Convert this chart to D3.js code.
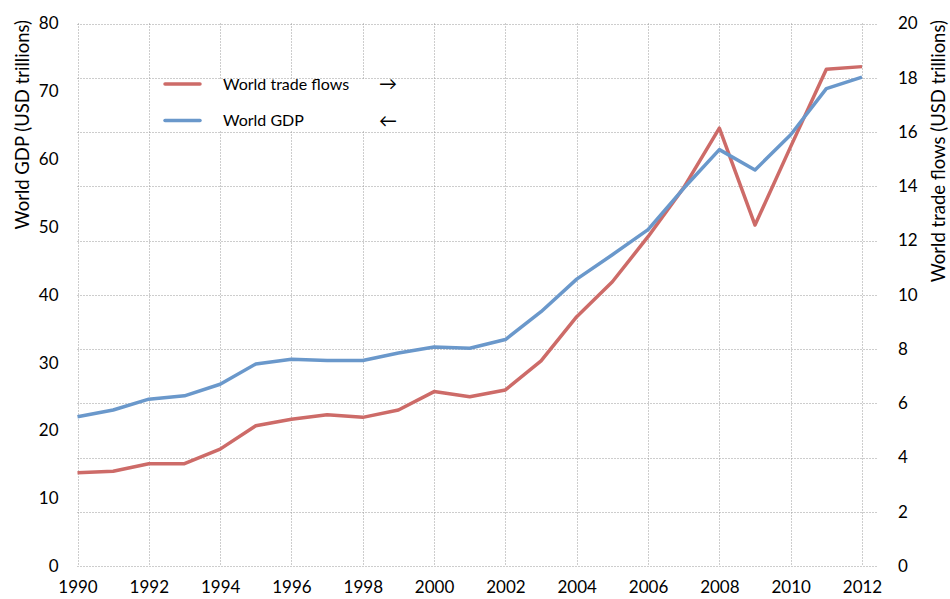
<!DOCTYPE html>
<html>
<head>
<meta charset="utf-8">
<script src="https://cdn.jsdelivr.net/npm/d3@7"></script>
<style>
  body { margin: 0; background: #fff; }
  svg text { font-family: Lato, "Open Sans", sans-serif; fill: #000; }
</style>
</head>
<body>
<svg class="chart"></svg>
<script>
// chart size + plot box
const width = 950
const height = 599
const padding = ({top: 23.5, right: 88, bottom: 33, left: 77.5})

// data
const years = d3.range(1990, 2013)
const gdp = [22.0, 23.0, 24.6, 25.1, 26.8, 29.8, 30.5, 30.3, 30.3, 31.4, 32.3, 32.1,
             33.4, 37.5, 42.3, 45.9, 49.6, 55.7, 61.4, 58.4, 63.6, 70.4, 72.1]
const trade = [3.44, 3.49, 3.77, 3.77, 4.31, 5.17, 5.41, 5.58, 5.48, 5.75, 6.43, 6.24,
               6.49, 7.56, 9.19, 10.48, 12.14, 13.95, 16.14, 12.57, 15.46, 18.31, 18.41]

const xTicks = d3.range(1990, 2013, 2)
const gdpTicks = d3.range(0, 81, 10)
const tradeTicks = d3.range(0, 21, 2)

const seriesNames = ['World trade flows', 'World GDP']
const seriesArrows = ['\u2192', '\u2190']
const colors = ['#cd6b68', '#6a98cb']

const svg = d3.select('svg.chart')
  .attr('width', width)
  .attr('height', height)

// scales
const xScale = d3.scaleLinear()
  .domain([1990, 2012])
  .range([padding.left, width - padding.right])

const yLeft = d3.scaleLinear()
  .domain([0, 80])
  .range([height - padding.bottom, padding.top])

const yRight = d3.scaleLinear()
  .domain([0, 20])
  .range([height - padding.bottom, padding.top])

// gridlines (horizontal ones follow the right axis)
const grid = svg.append('g').attr('class', 'grid')
  .attr('stroke', '#9a9a9a')
  .attr('stroke-width', 1)
  .attr('stroke-dasharray', '1,2')

grid.selectAll('line.h')
  .data(tradeTicks)
  .join('line')
  .attr('class', 'h')
  .attr('x1', padding.left)
  .attr('x2', width - padding.right + 16)
  .attr('y1', d => Math.round(yRight(d)) + 0.5)
  .attr('y2', d => Math.round(yRight(d)) + 0.5)

grid.selectAll('line.v')
  .data(xTicks)
  .join('line')
  .attr('class', 'v')
  .attr('x1', d => Math.round(xScale(d)) + 0.5)
  .attr('x2', d => Math.round(xScale(d)) + 0.5)
  .attr('y1', padding.top)
  .attr('y2', height - padding.bottom)

// axes (labels only, no domain lines)
const leftAxis = d3.axisLeft(yLeft).tickValues(gdpTicks).tickSize(0).tickPadding(19)
const rightAxis = d3.axisRight(yRight).tickValues(tradeTicks).tickSize(0).tickPadding(36)
const bottomAxis = d3.axisBottom(xScale).tickValues(xTicks).tickSize(0).tickFormat(d3.format('d')).tickPadding(15)

const styleAxis = g => {
  g.select('.domain').remove()
  g.selectAll('text').attr('font-size', 17).attr('font-family', 'Lato, sans-serif').attr('fill', '#000')
}

svg.append('g').attr('transform', `translate(${padding.left},0)`).call(leftAxis).call(styleAxis)
svg.append('g').attr('transform', `translate(${width - padding.right},0)`).call(rightAxis).call(styleAxis)
svg.append('g').attr('transform', `translate(0,${height - padding.bottom})`).call(bottomAxis).call(styleAxis)

// axis titles
svg.append('text')
  .attr('transform', 'translate(29,20) rotate(-90)')
  .attr('text-anchor', 'end')
  .attr('font-size', 18.5)
  .text('World GDP (USD trillions)')

svg.append('text')
  .attr('transform', 'translate(945,20) rotate(-90)')
  .attr('text-anchor', 'end')
  .attr('font-size', 18.5)
  .text('World trade flows (USD trillions)')

// lines
const tradeLine = d3.line()
  .x((d, i) => xScale(years[i]))
  .y(d => yRight(d))

const gdpLine = d3.line()
  .x((d, i) => xScale(years[i]))
  .y(d => yLeft(d))

svg.append('path')
  .datum(trade)
  .attr('fill', 'none')
  .attr('stroke', colors[0])
  .attr('stroke-width', 3.5)
  .attr('stroke-linejoin', 'round')
  .attr('d', tradeLine)

svg.append('path')
  .datum(gdp)
  .attr('fill', 'none')
  .attr('stroke', colors[1])
  .attr('stroke-width', 3.5)
  .attr('stroke-linejoin', 'round')
  .attr('d', gdpLine)

// legend
const legend = svg.append('g').attr('class', 'legend')

legend.append('rect')
  .attr('x', 160)
  .attr('y', 79)
  .attr('width', 243)
  .attr('height', 51)
  .attr('fill', '#fff')

const items = legend.selectAll('g.item')
  .data(seriesNames)
  .join('g')
  .attr('class', 'item')
  .attr('transform', (d, i) => `translate(0, ${84 + i * 36.5})`)

items.append('line')
  .attr('x1', 165)
  .attr('x2', 200)
  .attr('stroke', (d, i) => colors[i])
  .attr('stroke-width', 3.5)
  .attr('stroke-linecap', 'round')

items.append('text')
  .attr('x', 223)
  .attr('dy', '0.35em')
  .attr('font-size', 16)
  .text(d => d)

items.append('text')
  .attr('x', 379)
  .attr('dy', '0.35em')
  .attr('font-size', 18)
  .text((d, i) => seriesArrows[i])
</script>
</body>
</html>
